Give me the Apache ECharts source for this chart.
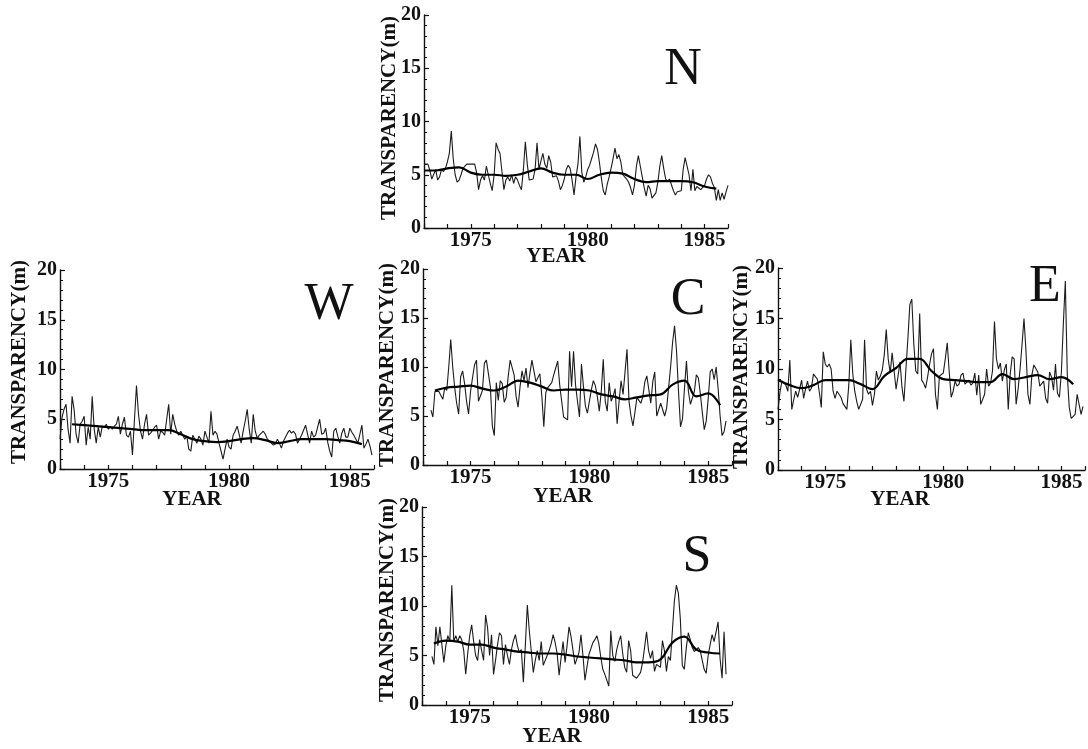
<!DOCTYPE html>
<html>
<head>
<meta charset="utf-8">
<title>Transparency N W C E S</title>
<script src="https://cdn.jsdelivr.net/npm/echarts@6/dist/echarts.min.js"></script>
<style>
  html, body { margin: 0; padding: 0; background: #fff; }
  #chart { width: 1088px; height: 749px; }
</style>
</head>
<body>
<div id="chart"></div>
<script>
// monthly transparency (m); smooth = running mean, every half year
var panelNames = ['N', 'W', 'C', 'E', 'S']
var yearTicks = [1975, 1980, 1985]

var nStart = 1973
var nRaw = [
  6.0, 6.0, 6.0, 5.4, 4.6, 4.5, 5.5, 4.5, 4.8, 5.5, 5.3, 5.6,
  6.2, 7.0, 9.1, 6.5, 5.0, 4.3, 4.5, 5.0, 5.6, 5.8, 6.0, 6.0,
  6.0, 6.0, 6.0, 5.2, 3.6, 4.5, 4.9, 4.5, 5.8, 5.0, 4.2, 3.5,
  5.0, 8.0, 7.4, 7.0, 5.3, 3.6, 4.5, 4.8, 4.4, 5.0, 4.2, 4.8,
  4.5, 4.0, 3.6, 5.5, 8.1, 6.0, 4.5, 4.5, 4.6, 5.5, 8.0, 5.5,
  6.3, 7.0, 6.0, 5.6, 6.8, 6.2, 4.8, 4.8, 4.9, 4.4, 3.6, 4.0,
  4.6, 5.5, 5.9, 5.6, 4.5, 3.1, 4.8, 6.0, 8.6, 5.2, 4.3, 4.8,
  5.5, 5.9, 6.5, 7.1, 7.9, 7.4, 6.2, 4.7, 3.5, 3.1, 4.1, 4.8,
  5.6, 6.5, 7.5, 6.5, 6.9, 6.2, 5.0, 4.8, 4.6, 4.3, 3.8, 3.1,
  4.0, 5.8, 6.8, 5.8, 4.8, 3.8, 3.0, 4.0, 3.7, 2.8, 2.7, 3.3,
  4.3, 5.8, 6.8, 5.6, 4.6, 4.4, 4.6, 4.6, 3.5, 3.1, 3.4, 3.5,
  3.5, 5.5, 6.6, 6.6, 5.0, 3.5, 5.5, 3.5, 3.9, 3.9, 3.6, 3.7,
  4.0, 4.6, 5.0, 4.8, 4.2, 3.8, 2.6, 3.6, 2.6, 3.3, 2.7, 3.4,
  4.0
]
var nSmoothStart = 1973
var nSmooth = [5.4, 5.4, 5.6, 5.7, 5.2, 5.0, 5.0, 4.9, 5.0, 5.3, 5.6, 5.2, 5.0,
  5.0, 4.6, 5.0, 5.2, 5.1, 4.6, 4.3, 4.4, 4.4, 4.4, 4.3, 3.9, 3.7]

var wStart = 1973
var wRaw = [
  3.0, 5.2, 6.0, 6.5, 4.0, 2.6, 7.3, 6.0, 3.5, 2.6, 4.5, 4.8,
  5.3, 2.4, 4.2, 3.0, 7.3, 4.0, 2.6, 4.2, 3.2, 4.3, 4.2, 4.5,
  4.0, 4.3, 4.0, 4.3, 4.5, 5.3, 3.5, 4.5, 5.2, 3.4, 3.2, 3.8,
  1.4, 5.0, 8.4, 5.5, 3.8, 3.0, 4.5, 5.5, 3.4, 3.6, 3.9, 4.2,
  4.4, 3.0, 3.8, 3.7, 3.4, 5.0, 6.5, 3.5, 5.5, 4.5, 3.8, 3.4,
  3.8, 3.4, 3.0, 3.3, 2.0, 1.8, 3.4, 3.0, 2.6, 3.3, 3.0, 2.4,
  3.8, 3.2, 2.6, 5.8, 3.4, 3.8, 3.5, 2.6, 1.8, 1.0, 2.0, 3.0,
  2.2, 2.0, 3.4, 3.8, 4.3, 3.5, 2.6, 3.8, 4.8, 6.0, 4.0, 2.6,
  5.5, 3.8, 3.1, 3.4, 3.6, 3.8, 3.5, 3.0, 2.8, 2.6, 2.4, 2.5,
  3.0, 2.6, 2.1, 2.8, 3.2, 3.6, 3.9, 3.6, 3.8, 3.5, 2.6, 3.0,
  3.4, 3.9, 4.4, 3.5, 2.6, 3.8, 3.2, 3.4, 4.2, 5.0, 3.5, 3.6,
  4.1, 2.7, 1.8, 1.2, 3.8, 4.1, 3.3, 2.6, 3.6, 4.1, 3.2, 3.2,
  4.1, 3.7, 3.4, 3.0, 2.6, 3.5, 4.4, 2.1, 2.5, 3.0, 2.3, 1.4
]
var wSmoothStart = 1973.5
var wSmooth = [4.5, 4.4, 4.3, 4.2, 4.1, 4.0, 3.9, 3.9, 3.9, 3.5, 3.0, 2.8, 2.7,
  2.8, 3.0, 3.1, 2.9, 2.6, 2.8, 3.0, 3.0, 3.0, 2.9, 2.8, 2.5]

var cStart = 1973 + 4 / 12
var cRaw = [
  5.6, 4.9, 7.5, 7.6, 7.5, 7.3, 6.7, 7.9,
  7.6, 10.0, 12.8, 10.0, 7.9, 6.3, 5.2, 9.0, 9.6, 8.3, 6.5, 5.2,
  7.5, 8.9, 10.2, 10.7, 6.5, 6.3, 7.6, 10.4, 10.7, 10.7, 8.0, 4.0,
  3.0, 8.4, 6.6, 8.6, 8.3, 6.4, 6.9, 9.0, 10.7, 10.7, 9.2, 7.0,
  5.9, 8.0, 9.6, 8.6, 9.9, 7.9, 9.4, 10.7, 9.6, 8.5, 8.6, 9.3,
  7.0, 3.9, 7.4, 7.9, 8.1, 8.4, 9.2, 9.9, 10.6, 8.2, 6.5, 4.9,
  4.7, 4.6, 11.6, 8.0, 11.6, 8.2, 6.5, 4.9, 10.3, 8.0, 6.0, 5.3,
  5.2, 7.7, 8.6, 8.1, 7.0, 5.5, 7.5, 10.8, 6.5, 5.5, 8.4, 6.5,
  7.0, 7.8, 4.2, 6.5, 8.6, 7.2, 9.5, 11.8, 6.5, 5.0, 4.0, 5.4,
  6.9, 6.6, 6.3, 7.0, 8.5, 9.1, 9.2, 6.3, 8.5, 9.5, 5.0, 4.9,
  6.3, 6.2, 5.0, 5.8, 7.9, 10.0, 12.5, 14.2, 11.6, 7.5, 3.9, 4.7,
  7.8, 10.6, 7.5, 6.2, 6.2, 7.5, 9.2, 8.9, 7.3, 5.4, 3.6, 4.5,
  6.8, 9.5, 9.8, 8.7, 10.0, 7.8, 5.0, 3.0, 3.4, 4.5
]
var cSmoothStart = 1973.5
var cSmooth = [7.6, 7.9, 8.0, 8.1, 7.8, 7.6, 8.0, 8.6, 8.4, 8.0, 7.6, 7.7, 7.7,
  7.6, 7.2, 7.0, 6.7, 6.9, 7.1, 7.2, 8.2, 8.6, 7.0, 7.3, 6.1]

var eStart = 1973
var eRaw = [
  6.0, 7.7, 8.8, 8.9, 8.4, 7.8, 10.9, 6.0, 7.0, 7.8, 7.2, 8.0,
  8.9, 7.1, 8.0, 8.8, 7.8, 8.1, 9.5, 9.6, 9.0, 7.7, 6.2, 11.7,
  10.5, 10.2, 10.5, 10.0, 7.8, 7.1, 7.8, 7.8, 7.2, 6.6, 6.3, 6.0,
  8.5, 12.9, 9.5, 7.8, 6.8, 6.0, 6.0, 7.0, 12.9, 8.0, 7.5, 7.8,
  6.4, 7.5, 9.8, 8.9, 9.3, 9.9, 11.4, 13.9, 11.0, 9.6, 11.6, 9.8,
  8.0, 9.3, 10.7, 8.2, 6.8, 10.0, 13.0, 16.4, 16.9, 12.5, 9.8, 9.5,
  15.5, 8.9, 8.6, 8.1, 9.2, 10.4, 11.5, 12.0, 7.5, 6.0, 9.3, 9.3,
  9.6, 11.0, 12.6, 9.7, 7.2, 7.8, 8.8, 8.3, 8.5, 9.4, 9.6, 8.5,
  8.4, 8.9, 8.4, 8.6, 9.6, 7.4, 9.4, 6.5, 6.5, 7.5, 10.0, 8.3,
  8.6, 9.8, 14.7, 11.0, 10.0, 10.6, 8.8, 9.9, 10.5, 6.0, 9.5, 11.2,
  11.0, 6.5, 8.0, 10.0, 12.4, 15.0, 11.8, 7.5, 6.5, 9.4, 10.4, 10.3,
  9.7, 8.3, 8.3, 8.8, 7.1, 6.6, 9.7, 9.2, 7.9, 10.5, 7.6, 7.2,
  9.7, 14.5, 18.7, 9.4, 6.2, 5.1, 5.1, 5.5, 7.5, 6.5, 5.5, 6.3
]
var eSmoothStart = 1973
var eSmooth = [8.9, 8.4, 8.1, 8.4, 8.9, 8.9, 8.9, 8.5, 8.0, 9.3, 10.1, 11.0, 11.0,
  9.8, 9.0, 8.9, 8.8, 8.7, 8.7, 9.5, 9.0, 9.2, 9.4, 9.0, 9.2, 8.5]

var sStart = 1973 + 5 / 12
var sRaw = [
  4.9, 4.1, 7.9, 6.0, 7.9, 6.1, 4.3,
  6.0, 7.0, 6.4, 12.1, 6.4, 7.0, 6.4, 7.0, 6.6, 5.5, 3.1, 5.2,
  7.0, 8.1, 6.4, 5.0, 4.5, 6.6, 5.5, 4.5, 9.1, 7.8, 5.0, 7.1,
  3.1, 4.5, 6.1, 7.3, 7.0, 4.1, 6.1, 5.0, 4.1, 5.6, 6.5, 7.1,
  6.0, 5.3, 5.6, 2.3, 6.0, 10.1, 7.5, 5.4, 3.3, 4.5, 5.5, 4.5,
  6.4, 4.0, 4.2, 5.0, 5.5, 6.2, 7.1, 6.3, 5.2, 3.0, 4.8, 6.4,
  4.3, 6.0, 7.9, 6.9, 5.5, 4.1, 4.1, 5.3, 7.1, 5.0, 2.5, 3.8,
  5.1, 5.7, 6.3, 6.6, 7.0, 6.2, 4.8, 3.6, 3.1, 3.1, 1.9, 7.5,
  5.0, 4.4, 5.6, 6.4, 7.0, 5.2, 3.8, 3.3, 6.5, 5.5, 3.0, 2.8,
  2.7, 2.6, 3.3, 4.3, 5.8, 7.4, 5.5, 4.7, 5.5, 3.4, 4.1, 4.2,
  3.8, 6.5, 5.5, 3.4, 4.9, 4.5, 4.5, 10.5, 12.1, 11.3, 8.7, 4.0,
  3.6, 5.8, 7.3, 6.6, 5.8, 5.4, 5.6, 5.8, 5.5, 5.3, 3.6, 3.2,
  5.0, 6.1, 7.1, 6.4, 6.6, 8.4, 4.7, 2.7, 7.4, 3.1
]
var sSmoothStart = 1973.5
var sSmooth = [6.2, 6.5, 6.4, 6.1, 6.1, 5.8, 5.6, 5.4, 5.3, 5.2, 5.2, 5.1, 4.9,
  4.8, 4.7, 4.6, 4.5, 4.3, 4.3, 4.6, 6.3, 6.9, 5.6, 5.3, 5.2]

var raws = [[nStart, nRaw], [wStart, wRaw], [cStart, cRaw], [eStart, eRaw], [sStart, sRaw]]
var smooths = [[nSmoothStart, nSmooth], [wSmoothStart, wSmooth], [cSmoothStart, cSmooth],
  [eSmoothStart, eSmooth], [sSmoothStart, sSmooth]]

// panel boxes in pixels: left, top, width, height
var boxes = [
  [424, 15, 304, 213],
  [60, 270, 314, 199],
  [423, 269, 309, 196],
  [778, 268, 310, 202],
  [422, 507, 310, 198]
]
// where the panel letter, YEAR and TRANSPARENCY(m) sit
var letterPos = [[683, 70], [329, 305], [688, 300], [1045, 287], [697, 557]]
var yearPos = [[556, 257], [192, 500], [563, 497], [900, 500], [552, 737]]
var yNamePos = [[390, 118], [20, 362], [388, 365], [742, 367], [388, 600]]

var serif = '"Liberation Serif", "DejaVu Serif", serif'
var ink = '#111'

var grids = []
var xAxes = []
var yAxes = []
var series = []
var graphics = []

panelNames.forEach(function(name, k) {
  var b = boxes[k]
  grids.push({ left: b[0], top: b[1], width: b[2], height: b[3] })

  xAxes.push({
    gridIndex: k,
    type: 'value',
    min: 1973,
    max: 1986,
    interval: 1,
    axisLine: { show: true, lineStyle: { color: ink, width: 1.4 } },
    axisTick: { show: true, inside: true, length: 4, lineStyle: { color: ink, width: 1.2 } },
    axisLabel: {
      margin: 2,
      color: ink,
      fontFamily: serif,
      fontWeight: 'bold',
      fontSize: 21,
      formatter: function(v) {
        return yearTicks.indexOf(v) >= 0 ? String(v) : ''
      }
    },
    splitLine: { show: false }
  })

  yAxes.push({
    gridIndex: k,
    type: 'value',
    min: 0,
    max: 20,
    interval: 5,
    axisLine: { show: true, lineStyle: { color: ink, width: 1.4 } },
    axisTick: { show: true, inside: true, length: 5, lineStyle: { color: ink, width: 1.2 } },
    minorTick: { show: true, splitNumber: 5, length: 3, lineStyle: { color: ink, width: 1 } },
    axisLabel: {
      margin: 3,
      color: ink,
      fontFamily: serif,
      fontWeight: 'bold',
      fontSize: 20
    },
    splitLine: { show: false }
  })

  var r = raws[k]
  series.push({
    type: 'line',
    xAxisIndex: k,
    yAxisIndex: k,
    symbol: 'none',
    lineStyle: { color: '#1c1c1c', width: 1.1 },
    data: r[1].map(function(v, i) { return [r[0] + i / 12, v] })
  })

  var s = smooths[k]
  series.push({
    type: 'line',
    xAxisIndex: k,
    yAxisIndex: k,
    symbol: 'none',
    smooth: 0.4,
    lineStyle: { color: '#000', width: 2.2 },
    data: s[1].map(function(v, i) { return [s[0] + i * 0.5, v] })
  })

  graphics.push({
    type: 'text',
    x: letterPos[k][0],
    y: letterPos[k][1],
    style: {
      text: name,
      font: 'normal 52px ' + serif,
      fill: '#111',
      align: 'center', verticalAlign: 'middle',
      textAlign: 'center', textVerticalAlign: 'middle'
    }
  })
  graphics.push({
    type: 'text',
    x: yearPos[k][0],
    y: yearPos[k][1],
    style: {
      text: 'YEAR',
      font: 'bold 21px ' + serif,
      fill: ink,
      align: 'center', verticalAlign: 'middle',
      textAlign: 'center', textVerticalAlign: 'middle'
    }
  })
  graphics.push({
    type: 'text',
    x: yNamePos[k][0],
    y: yNamePos[k][1],
    rotation: Math.PI / 2,
    style: {
      text: 'TRANSPARENCY(m)',
      font: 'bold 21px ' + serif,
      fill: ink,
      align: 'center', verticalAlign: 'middle',
      textAlign: 'center', textVerticalAlign: 'middle'
    }
  })
})

var myChart = echarts.init(document.getElementById('chart'))
myChart.setOption({
  backgroundColor: '#fff',
  animation: false,
  grid: grids,
  xAxis: xAxes,
  yAxis: yAxes,
  series: series,
  graphic: graphics
})
</script>
</body>
</html>
